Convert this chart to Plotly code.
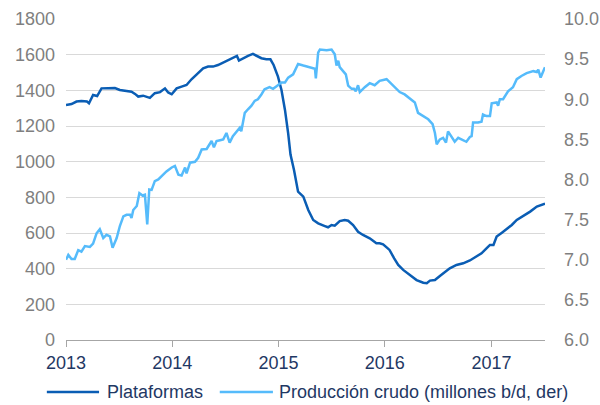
import plotly.graph_objects as go

rig_dates = ["2013-01-01","2013-01-20","2013-02-06","2013-02-23","2013-03-14","2013-03-21","2013-04-04","2013-04-18",
             "2013-05-03","2013-06-01","2013-06-18","2013-07-05","2013-07-28","2013-08-14","2013-08-26","2013-09-06",
             "2013-09-23","2013-10-05","2013-10-16","2013-11-02","2013-11-20","2013-12-07","2013-12-18","2013-12-30",
             "2014-01-16","2014-02-02","2014-02-19","2014-03-08","2014-03-31","2014-04-17","2014-05-04","2014-05-21",
             "2014-06-07","2014-06-24","2014-07-06","2014-07-17","2014-07-28","2014-08-11","2014-08-18","2014-09-01",
             "2014-09-18","2014-10-05","2014-10-17","2014-11-03","2014-11-20","2014-12-04","2014-12-15","2014-12-30",
             "2015-01-11","2015-01-23","2015-02-03","2015-02-11","2015-02-23","2015-03-09","2015-03-27","2015-04-13",
             "2015-04-30","2015-05-17","2015-06-09","2015-06-20","2015-07-02","2015-07-13","2015-07-30","2015-08-16",
             "2015-08-28","2015-09-14","2015-10-01","2015-10-18","2015-11-10","2015-12-03","2015-12-14","2015-12-26",
             "2016-01-11","2016-01-17","2016-02-02","2016-02-16","2016-03-04","2016-03-27","2016-04-19","2016-05-12",
             "2016-05-24","2016-06-04","2016-06-21","2016-07-08","2016-07-25","2016-08-11","2016-09-03","2016-09-26",
             "2016-10-19","2016-11-11","2016-11-28","2016-12-15","2016-12-27","2017-01-08","2017-01-19","2017-02-06",
             "2017-02-23","2017-03-12","2017-03-29","2017-04-21","2017-05-14","2017-06-06","2017-07-04"]
rig_values = [1318,1323,1337,1340,1337,1327,1374,1368,
              1411,1411,1413,1402,1398,1392,1380,1365,
              1370,1365,1358,1384,1390,1411,1388,1378,
              1411,1421,1430,1462,1499,1523,1533,1533,
              1542,1555,1561,1570,1580,1593,1567,1580,
              1593,1604,1593,1580,1574,1574,1542,1477,
              1402,1290,1159,1040,953,832,804,729,
              673,654,639,632,645,641,667,673,
              669,645,607,589,570,542,542,536,
              514,505,458,421,393,365,336,321,
              318,333,336,359,383,402,421,430,
              446,467,486,514,533,533,580,602,
              621,645,673,695,720,748,765]

crude_dates = ["2013-01-01","2013-01-09","2013-01-20","2013-01-31","2013-02-12","2013-02-23","2013-03-07","2013-03-24",
               "2013-04-04","2013-04-16","2013-04-27","2013-05-09","2013-05-20","2013-06-01","2013-06-10","2013-06-24",
               "2013-07-05","2013-07-17","2013-07-28","2013-08-09","2013-08-14","2013-08-20","2013-09-01","2013-09-10",
               "2013-09-21","2013-09-29","2013-10-07","2013-10-14","2013-10-22","2013-11-02","2013-11-14","2013-11-25",
               "2013-12-12","2013-12-30","2014-01-10","2014-01-22","2014-02-02","2014-02-14","2014-02-19","2014-03-03",
               "2014-03-20","2014-03-31","2014-04-12","2014-04-29","2014-05-16","2014-05-24","2014-06-02","2014-06-14",
               "2014-06-25","2014-07-06","2014-07-17","2014-07-28","2014-08-09","2014-08-21","2014-08-26","2014-09-07",
               "2014-09-18","2014-09-30","2014-10-11","2014-10-22","2014-11-03","2014-11-14","2014-12-01","2014-12-13",
               "2014-12-24","2015-01-11","2015-01-23","2015-02-03","2015-02-20","2015-03-09","2015-03-27","2015-04-13",
               "2015-05-06","2015-05-09","2015-05-17","2015-05-23","2015-06-15","2015-07-02","2015-07-13","2015-07-19",
               "2015-07-25","2015-07-30","2015-08-11","2015-08-20","2015-08-28","2015-09-09","2015-09-17","2015-09-23",
               "2015-10-01","2015-10-07","2015-10-24","2015-11-10","2015-11-27","2015-12-14","2016-01-07","2016-01-24",
               "2016-02-10","2016-02-21","2016-03-09","2016-03-27","2016-04-13","2016-04-24","2016-05-12","2016-05-29",
               "2016-06-13","2016-06-21","2016-06-27","2016-07-08","2016-07-19","2016-07-29","2016-08-05","2016-08-17",
               "2016-08-28","2016-09-09","2016-09-26","2016-10-07","2016-10-19","2016-10-25","2016-10-30","2016-11-16",
               "2016-11-28","2016-12-03","2016-12-15","2016-12-27","2017-01-02","2017-01-19","2017-01-24","2017-01-30",
               "2017-02-10","2017-02-27","2017-03-16","2017-03-29","2017-04-14","2017-05-02","2017-05-25","2017-06-06",
               "2017-06-11","2017-06-19","2017-06-28","2017-07-04"]
crude_values = [7.00,7.06,7.01,7.01,7.12,7.10,7.17,7.16,
                7.20,7.33,7.38,7.27,7.31,7.29,7.15,7.27,
                7.42,7.54,7.56,7.56,7.52,7.62,7.67,7.83,
                7.80,7.81,7.44,7.875,7.87,7.98,8.00,8.04,
                8.10,8.15,8.17,8.06,8.05,8.15,8.075,8.21,
                8.22,8.27,8.375,8.38,8.48,8.40,8.48,8.49,
                8.50,8.58,8.46,8.54,8.60,8.645,8.60,8.83,
                8.875,8.92,8.98,9.00,9.06,9.125,9.15,9.13,
                9.16,9.21,9.21,9.27,9.31,9.44,9.42,9.40,
                9.38,9.26,9.58,9.62,9.61,9.62,9.56,9.42,
                9.48,9.40,9.35,9.31,9.17,9.13,9.13,9.10,
                9.175,9.09,9.15,9.20,9.175,9.23,9.25,9.19,
                9.13,9.09,9.06,9.01,8.96,8.83,8.79,8.75,
                8.69,8.58,8.44,8.50,8.52,8.46,8.60,8.53,
                8.47,8.52,8.49,8.47,8.53,8.54,8.71,8.71,
                8.72,8.81,8.79,8.79,8.95,8.96,8.92,9.00,
                9.00,9.10,9.15,9.25,9.29,9.325,9.35,9.34,
                9.37,9.27,9.35,9.40]

year_ticks = ["2013-01-01","2014-01-01","2015-01-01","2016-01-01","2017-01-01"]
year_labels = ["2013","2014","2015","2016","2017"]
series_names = ["Plataformas", "Producción crudo (millones b/d, der)"]

RIG_COLOR = "#0A5DB4"
CRUDE_COLOR = "#55BBFB"
TEXT_DARK = "#1F3864"
FONT = "Liberation Sans, Arial, sans-serif"

fig = go.Figure()
fig.add_trace(go.Scatter(x=rig_dates, y=rig_values, mode="lines", name=series_names[0],
                         line=dict(color=RIG_COLOR, width=2.5), yaxis="y"))
fig.add_trace(go.Scatter(x=crude_dates, y=crude_values, mode="lines", name=series_names[1],
                         line=dict(color=CRUDE_COLOR, width=2.5), yaxis="y2"))

# manual legend below the plot (paper coordinates)
legend_items = [
    (series_names[0], RIG_COLOR, -0.040, 0.069, 0.081),
    (series_names[1], CRUDE_COLOR, 0.321, 0.432, 0.440),
]
shapes = []
annotations = []
for name, color, x0, x1, xt in legend_items:
    shapes.append(dict(type="line", xref="paper", yref="paper", x0=x0, x1=x1, y0=-0.162, y1=-0.162,
                       line=dict(color=color, width=2.5)))
    annotations.append(dict(text=name, xref="paper", yref="paper", x=xt, y=-0.162,
                            xanchor="left", yanchor="middle", showarrow=False,
                            font=dict(family=FONT, size=18, color=TEXT_DARK)))

fig.update_layout(
    width=600, height=405,
    margin=dict(l=66, r=55, t=19, b=65, autoexpand=False),
    paper_bgcolor="white", plot_bgcolor="white",
    font=dict(family=FONT, size=18, color="#7F7F7F"),
    showlegend=False,
    shapes=shapes,
    annotations=annotations,
    xaxis=dict(type="date", range=["2013-01-01", "2017-07-04"], automargin=False,
               tickmode="array", tickvals=year_ticks, ticktext=year_labels,
               ticks="outside", ticklen=6, tickcolor="#A6A6A6", tickwidth=1,
               showline=True, linecolor="#A6A6A6", linewidth=1,
               showgrid=False, zeroline=False,
               tickfont=dict(size=18, color=TEXT_DARK)),
    yaxis=dict(range=[0, 1800], dtick=200, tick0=0, automargin=False,
               showgrid=True, gridcolor="#D9D9D9", gridwidth=1,
               zeroline=False, showline=False, ticks="",
               ticklabelstandoff=10,
               tickfont=dict(size=18, color="#7F7F7F")),
    yaxis2=dict(range=[6, 10], dtick=0.5, tick0=6, tickformat=".1f", automargin=False,
                overlaying="y", side="right", showgrid=False,
                zeroline=False, showline=False, ticks="",
                ticklabelstandoff=18,
                tickfont=dict(size=18, color="#7F7F7F")),
)

fig.write_html("out.html",
               config={"displayModeBar": False, "staticPlot": True},
               post_script="document.body.style.margin='0px';document.body.style.overflow='hidden';")
